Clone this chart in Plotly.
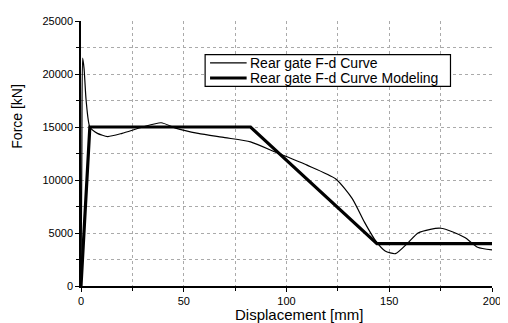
import plotly.graph_objects as go

# Measured curve (thin)
curve_x = [0, 0.4, 0.8, 1.5, 2.5, 4.3, 8, 13, 20, 30, 39, 46, 57, 70, 82.5, 95, 110, 124, 132, 138, 143.4, 148, 153, 159, 164, 170, 175, 181, 187, 193, 200]
curve_y = [0, 12000, 21500, 20500, 17500, 15000, 14400, 14100, 14400, 15000, 15400, 14900, 14400, 14000, 13600, 12600, 11400, 10100, 8250, 6000, 4250, 3300, 3050, 4050, 5000, 5350, 5450, 5100, 4550, 3650, 3400]

# Bilinear model (thick)
model_x = [0, 4.3, 82.5, 144, 200]
model_y = [0, 15000, 15000, 4000, 4000]

series_names = ["Rear gate F-d Curve", "Rear gate F-d Curve Modeling"]
series_widths = [1.2, 3.2]

x_ticks = [0, 50, 100, 150, 200]
y_ticks = [0, 5000, 10000, 15000, 20000, 25000]
y_ticklabels = [str(v) for v in y_ticks]

fig = go.Figure()
fig.add_trace(go.Scatter(x=curve_x, y=curve_y, mode="lines", name=series_names[0],
                         line=dict(color="black", width=series_widths[0], shape="spline", smoothing=0.6)))
fig.add_trace(go.Scatter(x=model_x, y=model_y, mode="lines", name=series_names[1],
                         line=dict(color="black", width=series_widths[1])))

# Manual legend (compact, like the original)
box = dict(x0=0.302, x1=0.899, y0=0.753, y1=0.873)
rows_y = [0.842, 0.785]
shapes = [dict(type="rect", xref="x domain", yref="y domain", **box,
               fillcolor="white", line=dict(color="black", width=1.2), layer="above")]
annotations = []
for name, w, ry in zip(series_names, series_widths, rows_y):
    shapes.append(dict(type="line", xref="x domain", yref="y domain", x0=0.314, x1=0.403,
                       y0=ry, y1=ry, line=dict(color="black", width=w), layer="above"))
    annotations.append(dict(text=name, xref="x domain", yref="y domain", x=0.407, y=ry,
                            xanchor="left", yanchor="middle", showarrow=False,
                            font=dict(size=14, color="black")))

annotations += [
    dict(text="Displacement [mm]", xref="x domain", yref="y domain", x=0.53, y=-0.108,
         xanchor="center", yanchor="middle", showarrow=False, font=dict(size=15)),
    dict(text="Force [kN]", xref="x domain", yref="y domain", x=-0.155, y=0.64,
         xanchor="center", yanchor="middle", showarrow=False, textangle=-90,
         font=dict(size=14)),
]

tickfont = dict(family="Liberation Sans, Arial", size=11, color="black")
fig.update_layout(
    width=500, height=315,
    margin=dict(l=73, r=10, t=7, b=37),
    paper_bgcolor="white", plot_bgcolor="white",
    font=dict(family="Liberation Sans, Arial", color="black"),
    showlegend=False,
    xaxis=dict(range=[0, 200], tickvals=x_ticks, showline=True, linecolor="black", linewidth=1.5,
               ticks="outside", ticklen=4, tickcolor="black", tickfont=tickfont,
               showgrid=True, gridcolor="#aaaaaa", griddash="dot", gridwidth=1, zeroline=False,
               minor=dict(dtick=25, showgrid=True, gridcolor="#aaaaaa", griddash="dot",
                          ticks="outside", ticklen=3, tickcolor="black")),
    yaxis=dict(range=[0, 25000], tickvals=y_ticks, ticktext=y_ticklabels, showline=True,
               linecolor="black", linewidth=1.5,
               ticks="outside", ticklen=4, tickcolor="black", tickfont=tickfont,
               showgrid=True, gridcolor="#aaaaaa", griddash="dot", gridwidth=1, zeroline=False,
               minor=dict(dtick=2500, showgrid=True, gridcolor="#aaaaaa", griddash="dot",
                          ticks="outside", ticklen=3, tickcolor="black")),
    shapes=shapes,
    annotations=annotations,
)
fig.write_html("out.html")
